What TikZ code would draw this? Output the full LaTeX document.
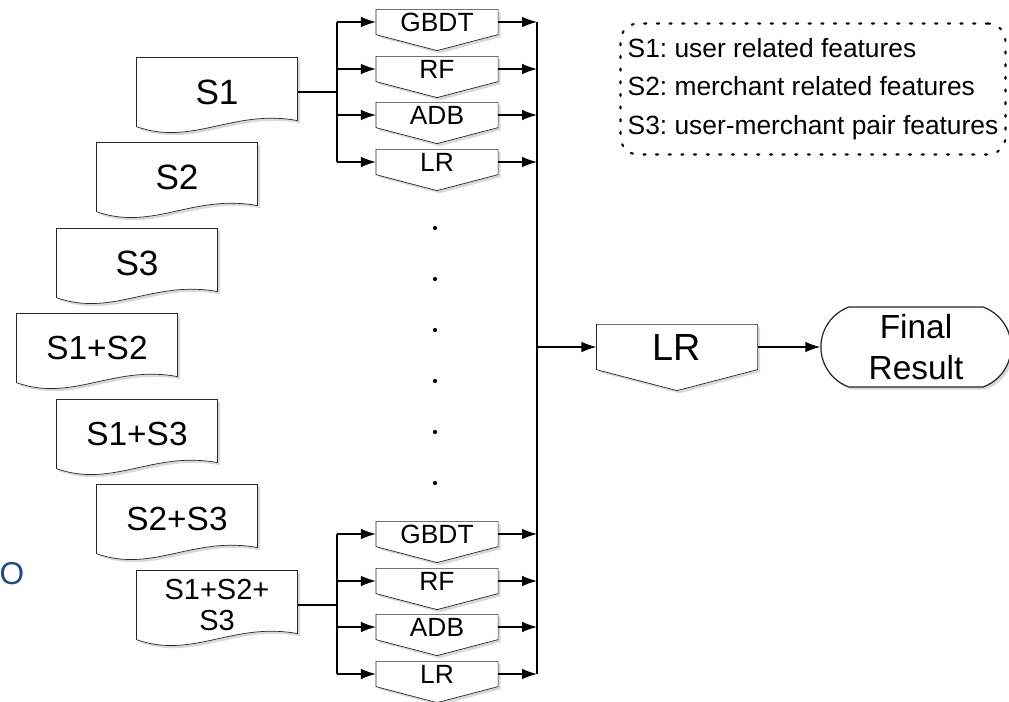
\documentclass[tikz,border=0pt]{standalone}
\usepackage{fontspec}
\setmainfont{Liberation Sans}
\usepackage{tikz}
\usetikzlibrary{arrows.meta,calc,backgrounds,shadows,shapes.misc}
\definecolor{slideblue}{RGB}{30,75,135}
\frenchspacing

\begin{document}
\begin{tikzpicture}[x=0.02cm,y=-0.02cm,line width=0.7pt,
  doc/.style={minimum width=3.2cm,minimum height=1.36cm,inner sep=0pt,align=center,font=\fontsize{20}{24}\selectfont},
  model/.style={minimum width=2.42cm,minimum height=0.48cm,inner sep=0pt,font=\fontsize{15}{18}\selectfont},
  outline/.style={draw=black!85,fill=white,drop shadow={opacity=0.3,shadow xshift=1.5pt,shadow yshift=-1.5pt}},
  arr/.style={-{Latex[length=8.5pt,width=6pt]}}]
\useasboundingbox (0,0) rectangle (1009,701);

% feature sets
\node[doc] (s1) at (217,92) {S1};
\node[doc] (s2) at (177,177) {S2};
\node[doc] (s3) at (137,263) {S3};
\node[doc,font=\fontsize{19}{23}\selectfont] (s12) at (97,348) {S1+S2};
\node[doc,font=\fontsize{19}{23}\selectfont] (s13) at (137,434) {S1+S3};
\node[doc,font=\fontsize{19}{23}\selectfont] (s23) at (177,519) {S2+S3};
\node[doc,font=\fontsize{16.5}{18}\selectfont] (s123) at (217,605) {S1+S2+\\S3};

% first level models
\node[model] (gbdt1) at (437,22) {GBDT};
\node[model] (rf1) at (437,69) {RF};
\node[model] (adb1) at (437,115) {ADB};
\node[model] (lr1) at (437,162) {LR};
\node[model] (gbdt2) at (437,534) {GBDT};
\node[model] (rf2) at (437,581) {RF};
\node[model] (adb2) at (437,627) {ADB};
\node[model] (lr2) at (437,674) {LR};

% second level
\node[model,minimum width=3.2cm,minimum height=0.88cm,font=\fontsize{21.5}{26}\selectfont] (lrtop) at (677,347) {LR};
\node[outline,rounded rectangle,rounded rectangle arc length=140,minimum width=4.04cm,minimum height=1.6cm,
  align=center,font=\fontsize{19}{23}\selectfont] (final) at (916,347) {Final\\Result};

% key
\node[draw,line width=1.2pt,line cap=round,dash pattern=on 1.2pt off 6pt,rounded corners=10pt,
  minimum width=7.7cm,minimum height=2.62cm,align=left,
  font=\fontsize{15}{22}\selectfont] (key) at (813,89)
  {S1: user related features\\S2: merchant related features\\S3: user-merchant pair features};

\node[anchor=west,inner sep=0pt,text=slideblue,font=\fontsize{18}{20}\selectfont] (o) at (-1,574) {O};

\begin{scope}[on background layer]
\foreach \n in {s1,s2,s3,s12,s13,s23,s123}
  \draw[outline] (\n.south west) -- (\n.north west) -- (\n.north east) -- ($(\n.south east)+(0,-6)$)
    .. controls ($(\n.south west)!0.6!(\n.south east)+(0,-18)$) and ($(\n.south west)!0.35!(\n.south east)+(0,20)$)
    .. (\n.south west) -- cycle;
\foreach \n in {gbdt1,rf1,adb1,lr1,gbdt2,rf2,adb2,lr2}
  \draw[outline] (\n.north west) -- (\n.north east) -- (\n.south east) -- ($(\n.south)+(0,16)$)
    -- (\n.south west) -- cycle;
\draw[outline] (lrtop.north west) -- (lrtop.north east) -- (lrtop.south east) -- ($(lrtop.south)+(0,21)$)
  -- (lrtop.south west) -- cycle;
\end{scope}

% connectors
\coordinate (bus) at (337,0);
\coordinate (col) at (537,0);
\draw (s1.east) -- (s1.east -| bus);
\draw (s123.east) -- (s123.east -| bus);
\draw (gbdt1.west -| bus) -- (lr1.west -| bus);
\draw (gbdt2.west -| bus) -- (lr2.west -| bus);
\foreach \n in {gbdt1,rf1,adb1,lr1,gbdt2,rf2,adb2,lr2} {
  \draw[arr] (\n.west -| bus) -- (\n.west);
  \draw[arr] (\n.east) -- (\n.east -| col);
}
\draw (gbdt1.east -| col) -- (lr2.east -| col);
\draw[arr] (lrtop.west -| col) -- (lrtop.west);
\draw[arr] (lrtop.east) -- (final.west);

% more models in between
\foreach \y in {228,279,330,381,432,483}
  \fill (435,\y) circle (1.2pt);
\end{tikzpicture}
\end{document}
